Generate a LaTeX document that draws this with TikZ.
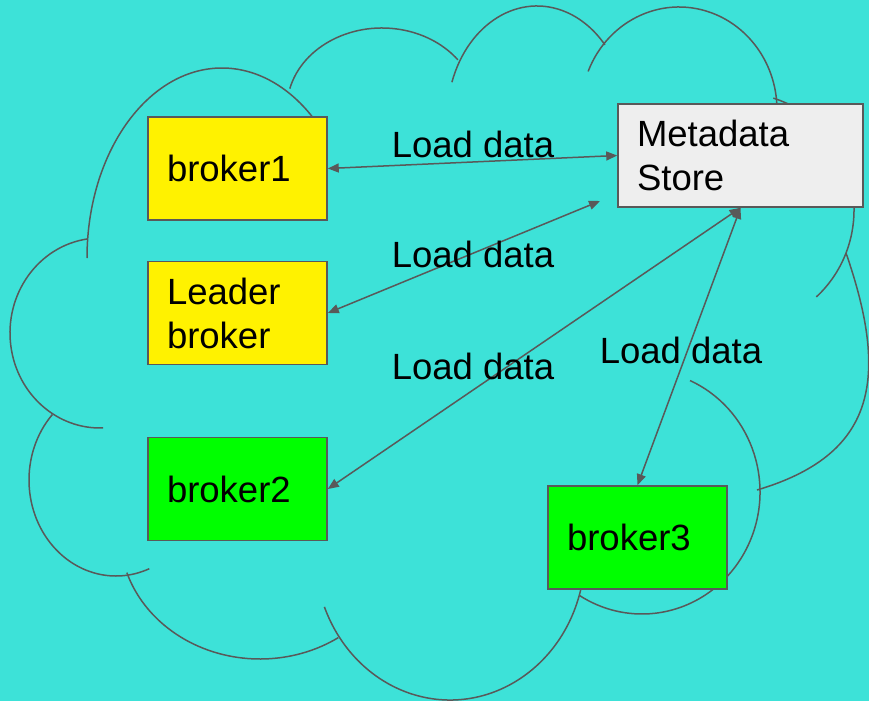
\documentclass[tikz,border=0pt]{standalone}
\usepackage{fontspec}
\setmainfont{Liberation Sans}
\usetikzlibrary{arrows.meta}
\definecolor{sea}{RGB}{61,226,216}
\definecolor{linegray}{RGB}{89,89,89}
\definecolor{storegray}{RGB}{238,238,238}

\begin{document}
\begin{tikzpicture}[x=1pt, y=-1pt,
  box/.style={rectangle, draw=linegray, line width=1.6pt,
    minimum width=179pt, minimum height=103pt, text width=141pt,
    align=left, inner xsep=19pt, inner ysep=0pt,
    font=\fontsize{36.5}{44}\selectfont},
  lbl/.style={inner sep=0pt, font=\fontsize{36.5}{44}\selectfont},
  arr/.style={<->, >={Triangle[length=11pt, width=9pt]}, draw=linegray,
    line width=1.5pt},
  puff/.style={draw=linegray, line width=1.5pt}
]
  \fill[sea] (0,0) rectangle (869,701);
  \useasboundingbox (0,0) rectangle (869,701);

  % cloud outline, one arc per bump
  \foreach \cx/\cy/\rx/\ry/\s/\e in {100/333/90/95/262/88,
      222/258/135/190/180/312, 382/108/95/80/194/323,
      537/119/90/113/199/319, 679/110/98/103/202/360,
      740/210/114/117/287/408, 642/492/118/122/294/482,
      450/553/135/147/14.5/158.5, 260/534/140/125/56/162,
      116/480/87/96/223/67.5}
    \draw[puff] ({\cx+\rx*cos(\s)},{\cy+\ry*sin(\s)})
      arc[start angle=\s, end angle=\e, x radius=\rx, y radius=\ry];
  \draw[puff] (846,253) .. controls (890,380) and (875,455) .. (757,490);

  % brokers and store
  \node[box, fill=yellow] (b1) at (237.5,168.5) {broker1};
  \node[box, fill=yellow] (lead) at (237.5,313) {Leader\\broker};
  \node[box, fill=green] (b2) at (237.5,489) {broker2};
  \node[box, fill=green] (b3) at (637.5,537.5) {broker3};
  \node[box, fill=storegray, minimum width=245pt, text width=207pt]
    (meta) at (740.5,155.5) {Metadata\\Store};
  \coordinate (leadend) at (600,201);

  \draw[arr] (b1.east) -- (meta.west);
  \draw[arr] (lead.east) -- (leadend);
  \draw[arr] (b2.east) -- (meta.south);
  \draw[arr] (b3.north) -- (meta.south);

  \node[lbl] (l1) at (473,144) {Load data};
  \node[lbl] (l2) at (473,254) {Load data};
  \node[lbl] (l3) at (473,366) {Load data};
  \node[lbl] (l4) at (681,350) {Load data};
\end{tikzpicture}
\end{document}
